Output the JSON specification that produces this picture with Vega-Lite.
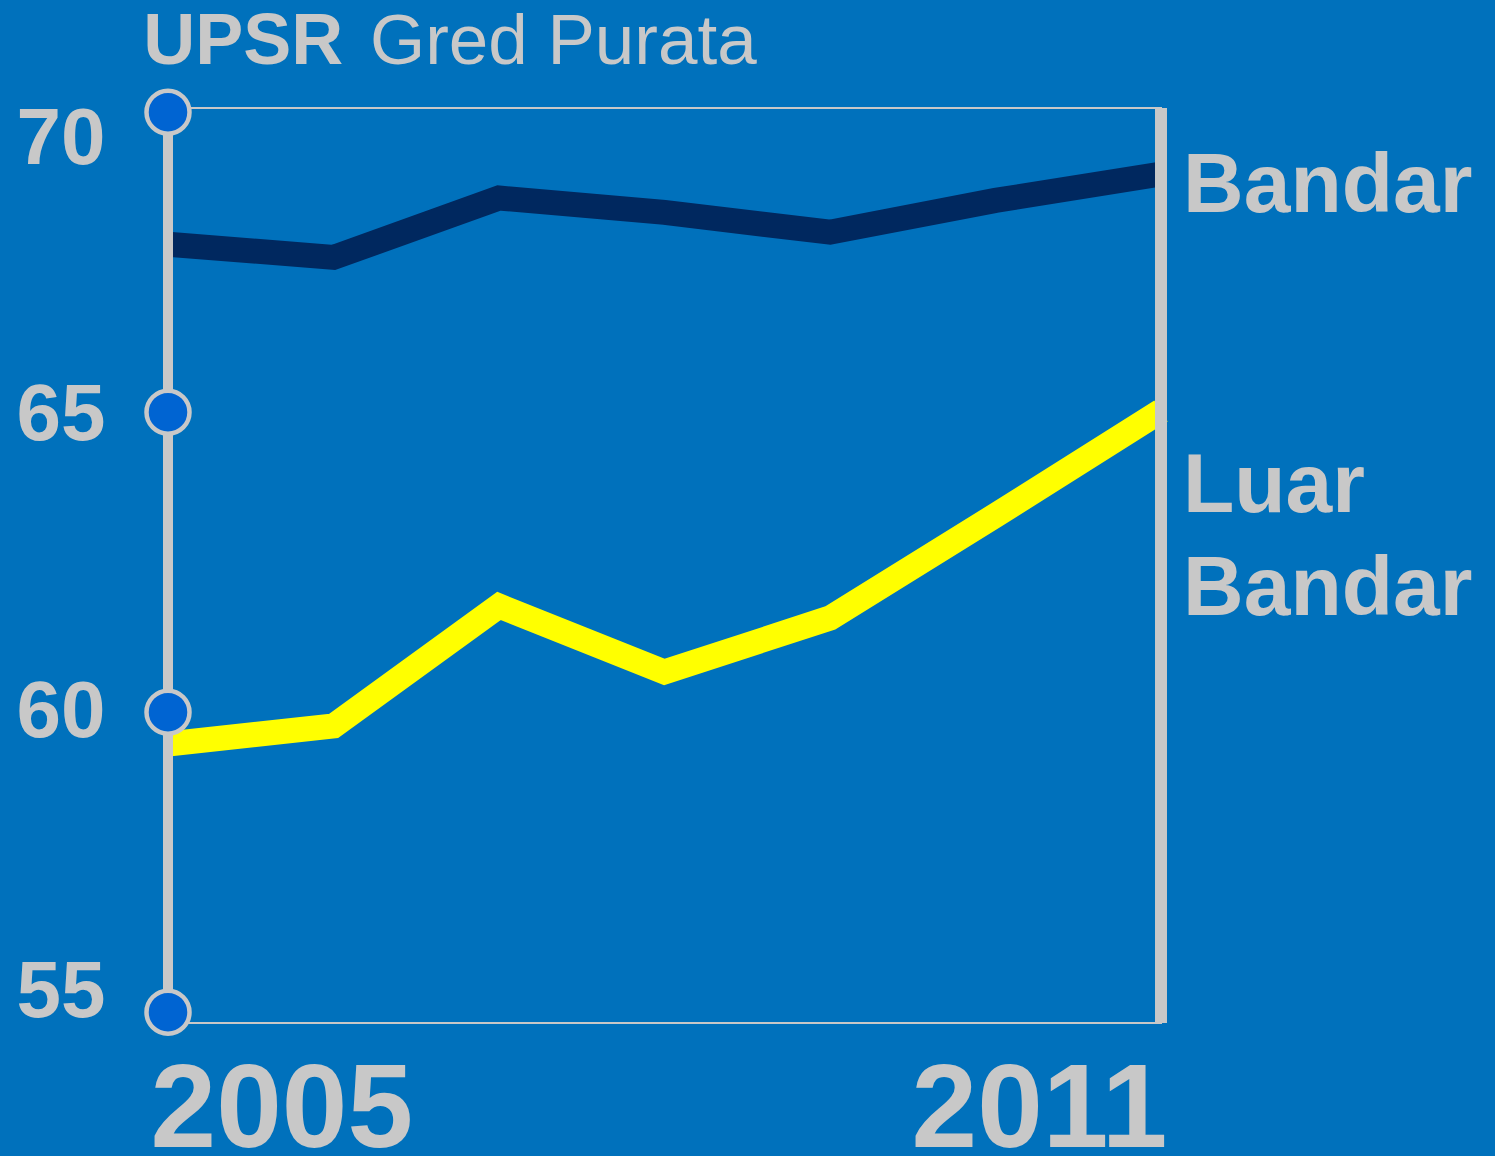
{
  "$schema": "https://vega.github.io/schema/vega-lite/v6.json",
  "width": 993,
  "height": 915,
  "autosize": {"type": "none"},
  "padding": {"left": 168, "top": 108, "right": 334, "bottom": 133},
  "background": "#0071BC",
  "config": {
    "view": {"stroke": "#C8C8C8", "strokeWidth": 2},
    "font": "Liberation Sans"
  },
  "datasets": {
    "series": [
      {"year": 2005, "series": "Bandar", "score": 67.8},
      {"year": 2006, "series": "Bandar", "score": 67.58},
      {"year": 2007, "series": "Bandar", "score": 68.57},
      {"year": 2008, "series": "Bandar", "score": 68.33},
      {"year": 2009, "series": "Bandar", "score": 68.0},
      {"year": 2010, "series": "Bandar", "score": 68.53},
      {"year": 2011, "series": "Bandar", "score": 68.97},
      {"year": 2005, "series": "Luar Bandar", "score": 59.47},
      {"year": 2006, "series": "Luar Bandar", "score": 59.77},
      {"year": 2007, "series": "Luar Bandar", "score": 61.77},
      {"year": 2008, "series": "Luar Bandar", "score": 60.67},
      {"year": 2009, "series": "Luar Bandar", "score": 61.57},
      {"year": 2010, "series": "Luar Bandar", "score": 63.28},
      {"year": 2011, "series": "Luar Bandar", "score": 65.02}
    ],
    "ticks": [{"v": 55}, {"v": 60}, {"v": 65}, {"v": 70}]
  },
  "data": {"name": "series"},
  "layer": [
    {
      "mark": {"type": "line", "strokeWidth": 25, "strokeJoin": "miter"},
      "encoding": {
        "x": {
          "field": "year", "type": "quantitative",
          "scale": {"domain": [2005, 2011], "nice": false, "zero": false},
          "axis": {
            "title": null, "values": [2005, 2011], "format": "d",
            "domain": false, "ticks": false, "tickSize": 0, "grid": false,
            "labelFontSize": 118, "labelFontWeight": "bold", "labelColor": "#C8C8C8",
            "labelFont": "Liberation Sans", "labelLimit": 2000,
            "labelBaseline": "alphabetic", "labelPadding": 123,
            "labelFlush": true, "labelOverlap": false, "labelBound": false,
            "labelOffset": {"expr": "datum.value == 2005 ? -18 : 6"}
          }
        },
        "y": {
          "field": "score", "type": "quantitative",
          "scale": {"domain": [54.82, 70.07], "nice": false, "zero": false},
          "axis": {
            "title": null, "values": [55, 60, 65, 70], "format": "d",
            "domain": false, "ticks": false, "tickSize": 0, "grid": false,
            "labelFontSize": 80, "labelFontWeight": "bold", "labelColor": "#C8C8C8",
            "labelFont": "Liberation Sans", "labelLimit": 2000,
            "labelAlign": "right", "labelBaseline": "middle", "labelPadding": 63,
            "labelOverlap": false, "labelBound": false, "labelFlush": false,
            "labelOffset": {"expr": "datum.value == 70 ? 27 : datum.value == 65 ? 3 : datum.value == 55 ? -20 : 0"}
          }
        },
        "color": {
          "field": "series", "type": "nominal",
          "scale": {"domain": ["Bandar", "Luar Bandar"], "range": ["#00285F", "#FFFF00"]},
          "legend": null
        }
      }
    },
    {
      "mark": {"type": "rule", "color": "#C8C8C8", "strokeWidth": 10},
      "encoding": {"x": {"datum": 2005}, "y": {"datum": 55}, "y2": {"datum": 70}}
    },
    {
      "mark": {"type": "rule", "color": "#C8C8C8", "strokeWidth": 11},
      "encoding": {"x": {"datum": 2011}}
    },
    {
      "data": {"name": "ticks"},
      "mark": {"type": "point", "shape": "circle", "filled": true, "fill": "#0064D2", "stroke": "#C8C8C8", "strokeWidth": 4.5, "size": 1850, "opacity": 1},
      "encoding": {"x": {"datum": 2005}, "y": {"field": "v", "type": "quantitative"}}
    },
    {
      "mark": {"type": "text", "text": "UPSR", "fontSize": 72, "fontWeight": "bold", "color": "#C8C8C8", "align": "left", "baseline": "alphabetic"},
      "data": {"values": [{}]},
      "encoding": {"x": {"datum": 2004.85}, "y": {"datum": 70.8}}
    },
    {
      "mark": {"type": "text", "text": "Gred Purata", "fontSize": 71, "fontWeight": "normal", "color": "#C8C8C8", "align": "left", "baseline": "alphabetic"},
      "data": {"values": [{}]},
      "encoding": {"x": {"datum": 2006.22}, "y": {"datum": 70.8}}
    },
    {
      "mark": {"type": "text", "text": "Bandar", "fontSize": 84, "fontWeight": "bold", "color": "#C8C8C8", "align": "left", "baseline": "alphabetic", "dx": 22},
      "data": {"values": [{}]},
      "encoding": {"x": {"datum": 2011}, "y": {"datum": 68.33}}
    },
    {
      "mark": {"type": "text", "text": ["Luar", "Bandar"], "lineHeight": 103, "fontSize": 84, "fontWeight": "bold", "color": "#C8C8C8", "align": "left", "baseline": "alphabetic", "dx": 22},
      "data": {"values": [{}]},
      "encoding": {"x": {"datum": 2011}, "y": {"datum": 63.33}}
    }
  ]
}
